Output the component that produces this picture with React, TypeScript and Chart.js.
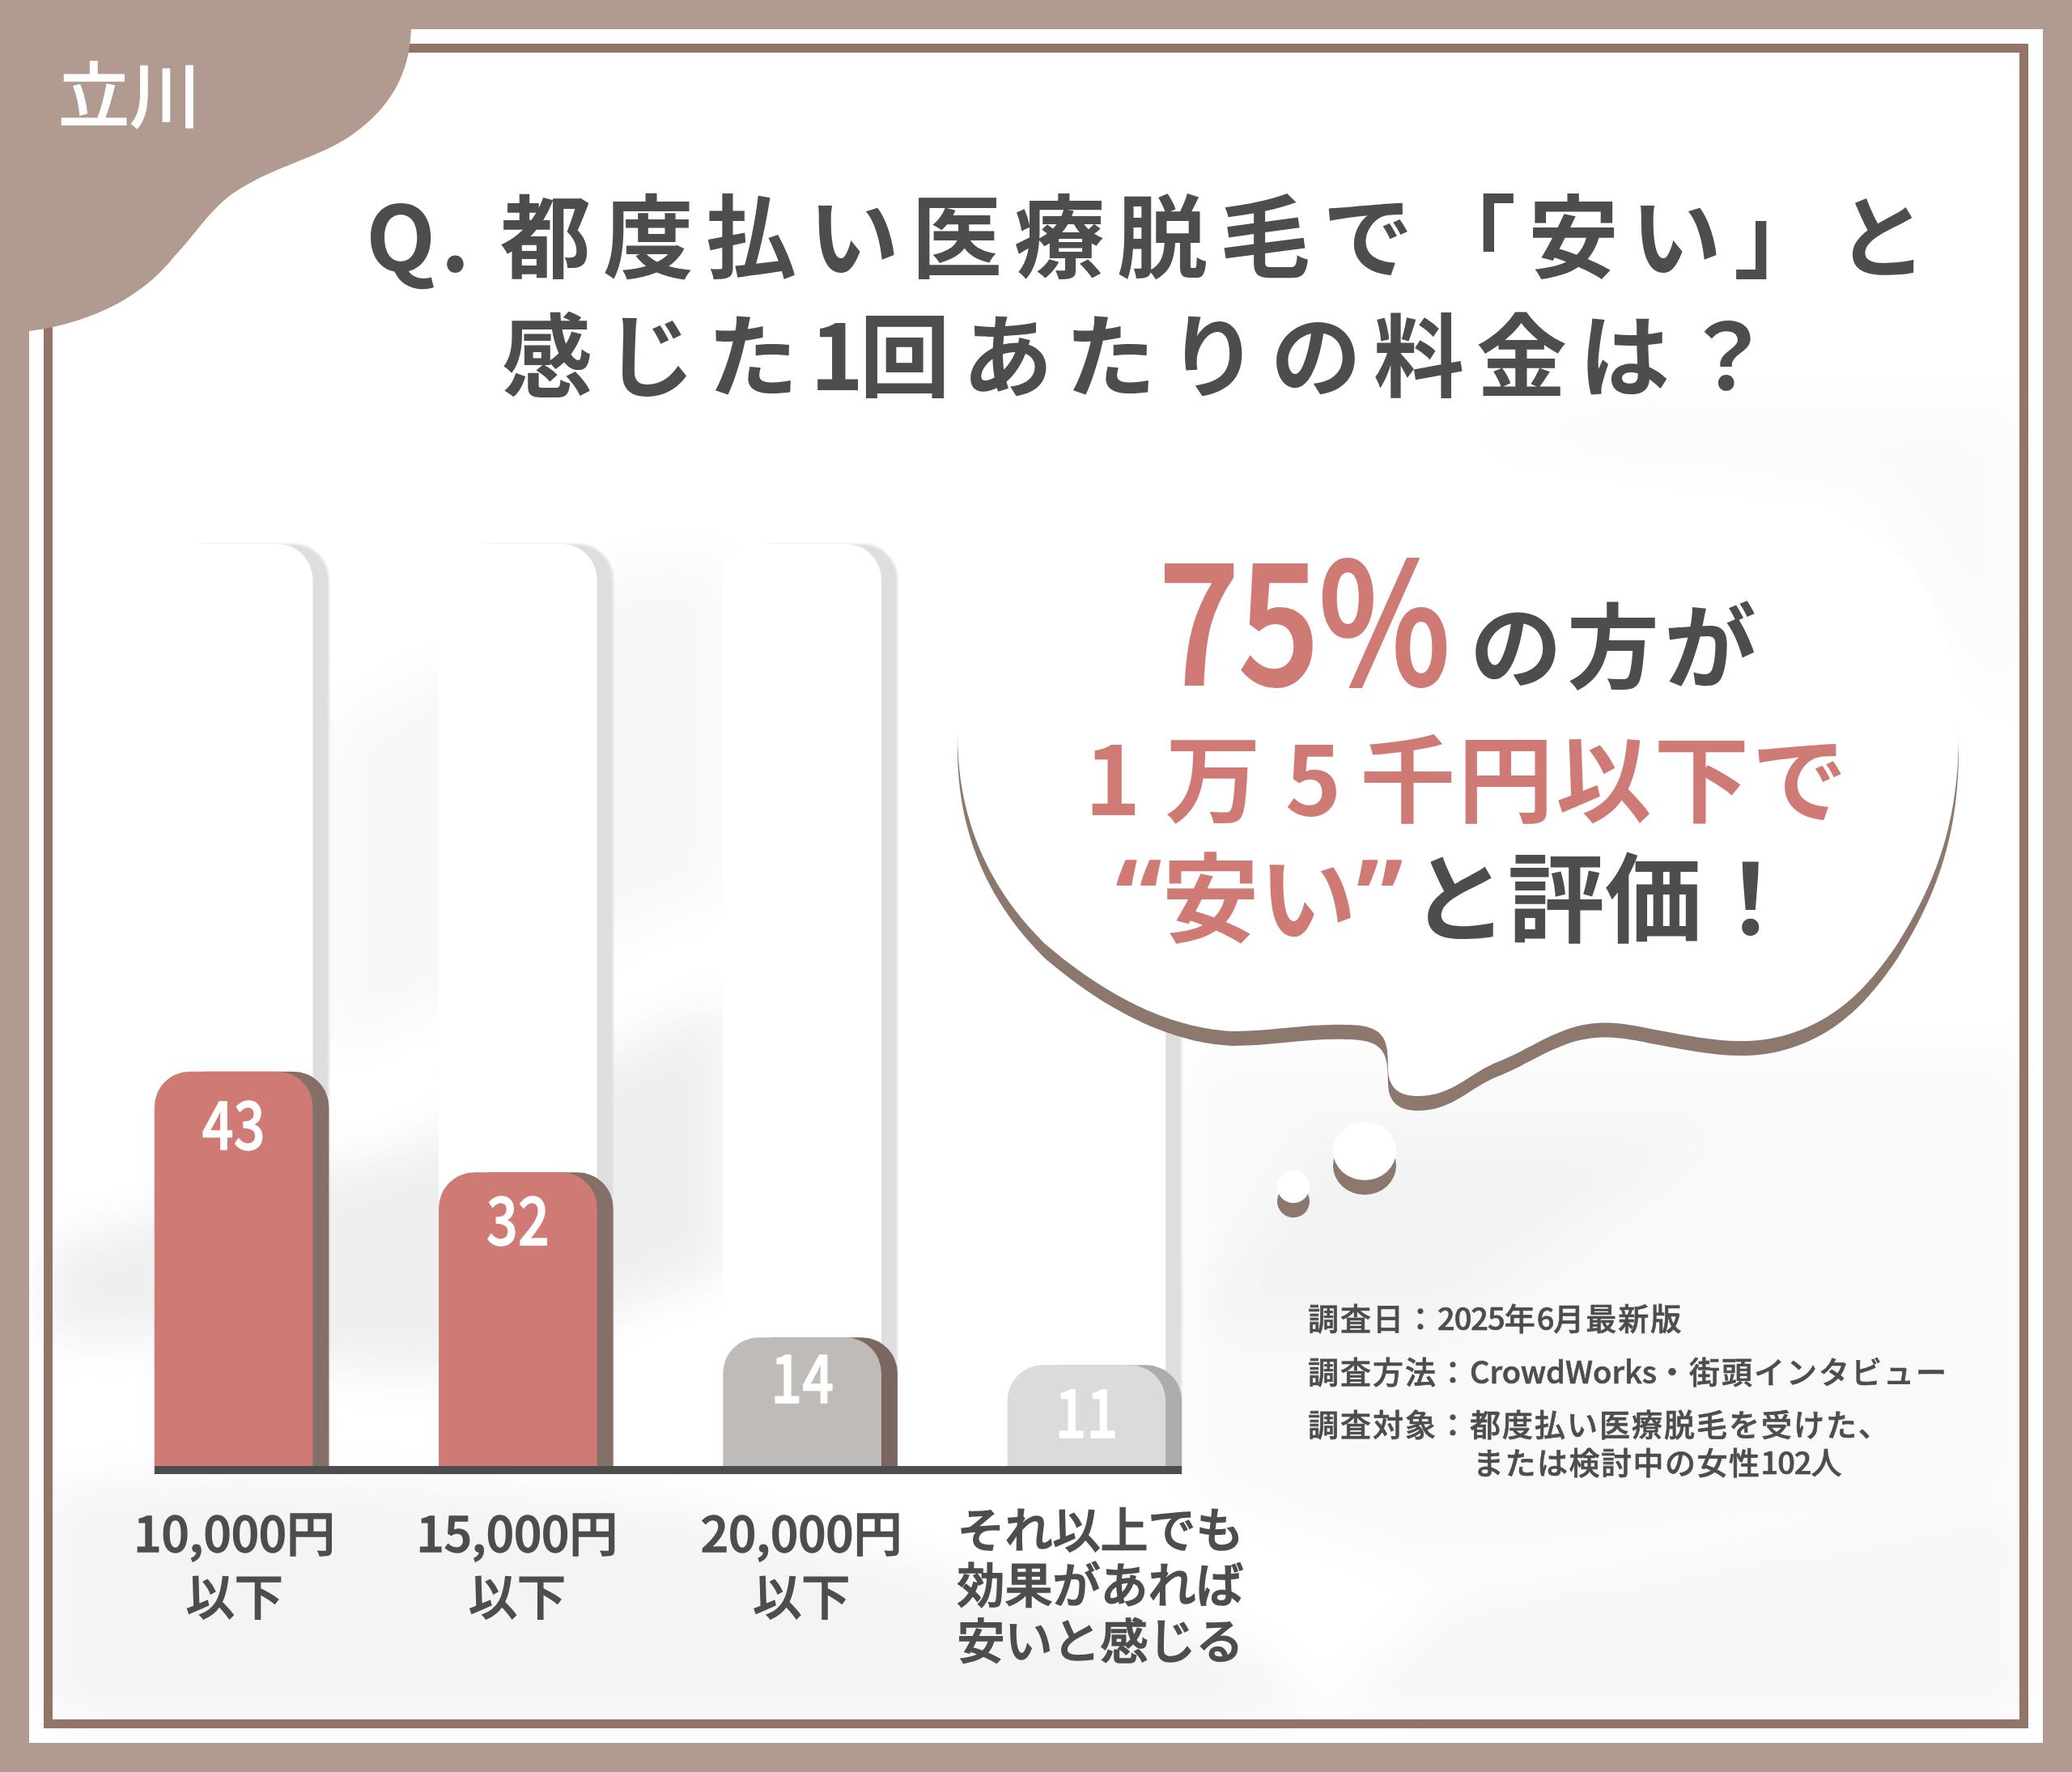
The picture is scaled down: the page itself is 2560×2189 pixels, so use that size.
import React, { useEffect, useRef } from "react";
import { Chart, registerables } from "chart.js";

Chart.register(...registerables);

const categories = [
  ["10,000円", "以下"],
  ["15,000円", "以下"],
  ["20,000円", "以下"],
  ["それ以上でも", "効果があれば", "安いと感じる"],
];
const percentValues = [43, 32, 14, 11];
const trackValues = [100.5, 100.5, 100.5, 100.5];
const barColors = ["#cf7a74", "#cf7a74", "#bfbbb8", "#dcdbdb"];
const barShadowColors = ["#857067", "#857067", "#7c6662", "#adacac"];
const valueLabelDy = [65, 59, 50, 59];
const tickLabelDx = [1, -1, -1, 17];

const JP = '"Noto Sans CJK JP", sans-serif';
const INK = "#4d4d4d";
const RED = "#cf7a74";
const BAND = "#b19a90";
const LINE = "#927567";
const DEPTH = 20;

const bubblePath =
  "M1183 907 C1183 770 1215 695 1300 650 C1400 608 1600 600 1800 600 C2000 600 2200 600 2300 650 C2390 700 2420 800 2420 907 " +
  "C2420 1010 2395 1085 2345 1165 C2305 1225 2265 1262 2205 1279 C2150 1294 2100 1282 2045 1272 " +
  "C2005 1264 1975 1258 1935 1272 C1900 1285 1885 1298 1850 1312 C1815 1326 1795 1354 1751 1354 " +
  "C1725 1354 1715 1340 1715 1320 C1715 1285 1712 1266 1664 1266 C1620 1264 1570 1274 1523 1274 " +
  "C1440 1270 1360 1225 1290 1165 C1220 1095 1183 1010 1183 907 Z";

const depthPlugin = {
  id: "depth",
  beforeDatasetDraw(chart: any, args: any) {
    const ds = chart.data.datasets[args.index];
    if (ds.depth) {
      chart.ctx.save();
      chart.ctx.translate(DEPTH, 0);
      if (ds.soft) chart.ctx.filter = "blur(1.5px)";
    }
  },
  afterDatasetDraw(chart: any, args: any) {
    if (chart.data.datasets[args.index].depth) chart.ctx.restore();
  },
  afterDatasetsDraw(chart: any) {
    const ctx = chart.ctx;
    const idx = chart.data.datasets.findIndex((d: any) => d.front);
    const bars = chart.getDatasetMeta(idx).data;
    const base = chart.scales.y.getPixelForValue(0);
    const first = bars[0].getProps(["x", "width"], true);
    const last = bars[bars.length - 1].getProps(["x", "width"], true);
    ctx.save();
    ctx.fillStyle = INK;
    ctx.fillRect(first.x - first.width / 2, base, last.x + last.width / 2 + DEPTH - (first.x - first.width / 2), 10);
    ctx.fillStyle = "#ffffff";
    ctx.strokeStyle = "#ffffff";
    ctx.lineWidth = 1.5;
    ctx.lineJoin = "round";
    ctx.textAlign = "center";
    ctx.textBaseline = "middle";
    ctx.font = `500 82px ${JP}`;
    bars.forEach((b: any, i: number) => {
      const p = b.getProps(["x", "y"], true);
      ctx.save();
      ctx.translate(p.x, p.y + valueLabelDy[i]);
      ctx.scale(0.83, 1);
      ctx.fillText(String(percentValues[i]), 0, 0);
      ctx.strokeText(String(percentValues[i]), 0, 0);
      ctx.restore();
    });
    ctx.restore();
  },
};

function Text(props: { x: number; cy: number; size: number; color?: string; weight?: number; ls?: number; sx?: number; stroke?: number; children: any }) {
  const { x, cy, size, color = INK, weight = 700, ls = 0, sx, stroke, children } = props;
  return (
    <div
      style={{
        position: "absolute",
        left: x,
        top: cy - size / 2,
        fontSize: size,
        lineHeight: `${size}px`,
        color,
        fontWeight: weight,
        letterSpacing: ls,
        whiteSpace: "pre",
        fontFamily: JP,
        transform: sx ? `scaleX(${sx})` : undefined,
        transformOrigin: "left center",
        WebkitTextStroke: stroke ? `${stroke}px ${color}` : undefined,
      }}
    >
      {children}
    </div>
  );
}

const Tight = (p: { children: any; ls?: number }) => <span style={{ letterSpacing: p.ls ?? -1 }}>{p.children}</span>;

export default function App() {
  const ref = useRef<HTMLCanvasElement>(null);
  useEffect(() => {
    const chart = new Chart(ref.current as HTMLCanvasElement, {
      type: "bar",
      plugins: [depthPlugin],
      data: {
        labels: categories as any,
        datasets: [
          { data: trackValues, backgroundColor: "#dedede", order: 4, depth: true, soft: true, clip: false } as any,
          { data: trackValues, backgroundColor: "#ffffff", order: 3, clip: false } as any,
          { data: percentValues, backgroundColor: barShadowColors, order: 2, depth: true, clip: false } as any,
          { data: percentValues, backgroundColor: barColors, order: 1, front: true, clip: false } as any,
        ],
      },
      options: {
        animation: false,
        responsive: false,
        devicePixelRatio: 1,
        layout: { autoPadding: false, padding: { left: 113, right: 1042, top: 672, bottom: 8 } },
        datasets: {
          bar: {
            grouped: false,
            barPercentage: 0.56,
            categoryPercentage: 1,
            borderRadius: { topLeft: 44, topRight: 44, bottomLeft: 0, bottomRight: 0 },
            borderSkipped: false,
          },
        },
        plugins: { legend: { display: false }, tooltip: { enabled: false }, title: { display: false } },
        scales: {
          y: { display: false, min: 0, max: 100.5 },
          x: {
            afterFit: (s: any) => {
              s.height = 370;
              if (!s.__shifted) {
                s.__shifted = true;
                const orig = s.getPixelForTick.bind(s);
                s.getPixelForTick = (i: number) => orig(i) + (tickLabelDx[i] || 0);
              }
            },
            grid: { display: false },
            border: { display: false },
            ticks: {
              color: INK,
              padding: 36,
              autoSkip: false,
              maxRotation: 0,
              minRotation: 0,
              textStrokeColor: INK,
              textStrokeWidth: 1.5,
              font: (c: any) =>
                c.index === 3
                  ? { family: JP, size: 59, weight: "500", lineHeight: 1.16 }
                  : { family: JP, size: 60, weight: "500", lineHeight: 1.3 },
            },
          },
        },
      } as any,
    });
    return () => chart.destroy();
  }, []);

  return (
    <div style={{ position: "absolute", left: 0, top: 0, width: 2560, height: 2189, overflow: "hidden", background: "#fff" }}>
      <svg width={2560} height={2189} style={{ position: "absolute", left: 0, top: 0 }}>
        <defs>
          <filter id="soft" x="-20%" y="-20%" width="140%" height="140%">
            <feGaussianBlur stdDeviation="30" />
          </filter>
        </defs>
        <g filter="url(#soft)">
          <polygon points="56,1542 199,1502 517,1415 756,1301 899,1234 899,1569 517,1703 199,1649 56,1656" fill="#efefef" />
          <polygon points="406,900 545,830 760,700 900,690 900,1100 406,1300" fill="#f8f8f8" />
          <polygon points="56,1837 358,1823 835,1857 1154,1937 1551,2038 1631,2125 56,2125" fill="#f4f4f4" />
          <polygon points="1472,1300 2506,1300 2506,1840 1770,1940 1472,1840" fill="#f9f9f9" />
          <polygon points="1631,1401 2108,1401 1790,1636 1472,1636" fill="#f3f3f3" />
          <polygon points="1790,1970 2506,1857 2506,2125 1631,2125" fill="#f7f7f7" />
          <polygon points="1800,540 2000,500 2495,500 2495,900 2300,600" fill="#fafafa" />
        </g>
        <rect x={18} y={18} width={2524} height={2153} fill="none" stroke={BAND} strokeWidth={36} />
        <rect x={59.5} y={59.5} width={2441} height={2070} fill="none" stroke={LINE} strokeWidth={11} />
        <path
          d="M0 0 H508 V36 C506 92 482 135 430 170 C392 194 342 206 302 230 C262 252 246 285 216 316 C180 362 120 398 36 409 H0 Z"
          fill={BAND}
        />
      </svg>
      <canvas ref={ref} width={2560} height={2189} style={{ position: "absolute", left: 0, top: 0, width: 2560, height: 2189 }} />
      <svg width={2560} height={2189} style={{ position: "absolute", left: 0, top: 0 }}>
        <path d={bubblePath} fill="#8d786e" transform="translate(0 18)" />
        <path d={bubblePath} fill="#ffffff" />
        <ellipse cx={1686} cy={1440} rx={39} ry={36} fill="#8d786e" />
        <ellipse cx={1686} cy={1422} rx={39} ry={36} fill="#ffffff" />
        <circle cx={1598} cy={1484} r={20} fill="#8d786e" />
        <circle cx={1598} cy={1466} r={20} fill="#ffffff" />
      </svg>

      <Text x={72} cy={112} size={88} color="#ffffff" weight={500} stroke={1}>立川</Text>

      <Text x={452} cy={286} size={112} ls={15}>
        <span style={{ letterSpacing: 6 }}>Q. </span>都度払い医療脱毛で「安い」と
      </Text>
      <Text x={620} cy={433} size={112} ls={15}>
        感じた<span style={{ letterSpacing: -5 }}>1</span>回あたりの料金は？
      </Text>

      <Text x={1432} cy={755} size={206} color={RED} weight={500} sx={0.84} stroke={4}>75%</Text>
      <Text x={1816} cy={792} size={114} ls={6}>の方が</Text>
      <Text x={1340} cy={956} size={118} ls={3}>
        <span style={{ color: RED }}>
          <span style={{ margin: "0 27px 0 0" }}>1</span>万<span style={{ margin: "0 20px 0 27px" }}>5</span>千円以下で
        </span>
      </Text>
      <Text x={1378} cy={1103} size={120}>
        <span style={{ color: RED }}>
          <span style={{ fontFamily: '"Noto Sans", sans-serif', fontSize: 130 }}>“</span>安い
          <span style={{ fontFamily: '"Noto Sans", sans-serif', fontSize: 130, marginRight: 9 }}>”</span>
        </span>
        と評価！
      </Text>

      <Text x={1616} cy={1627} size={38} weight={500} ls={2} stroke={0.7}>
        調査日：<Tight>2025</Tight>年<Tight>6</Tight>月最新版
      </Text>
      <Text x={1616} cy={1693} size={38} weight={500} ls={2} stroke={0.7}>
        調査方法：<Tight ls={0}>CrowdWorks</Tight>・街頭インタビュー
      </Text>
      <Text x={1616} cy={1758} size={38} weight={500} ls={2} stroke={0.7}>
        調査対象：都度払い医療脱毛を受けた、
      </Text>
      <Text x={1820} cy={1805} size={38} weight={500} ls={1.5} stroke={0.7}>
        または検討中の女性<Tight>102</Tight>人
      </Text>
    </div>
  );
}
